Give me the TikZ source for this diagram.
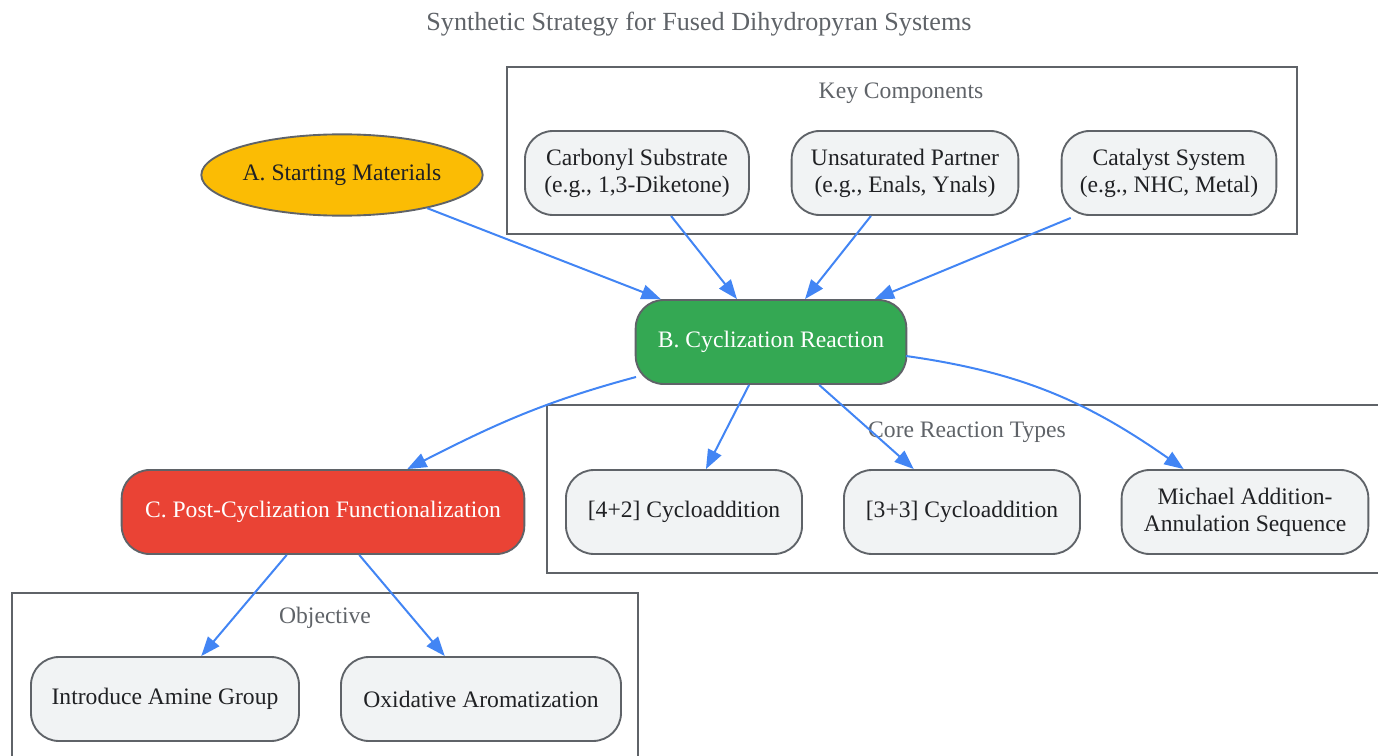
\documentclass[tikz,border=0pt]{standalone}
\usepackage{fontspec}
\setmainfont{Liberation Serif}
\usetikzlibrary{arrows.meta,shapes.geometric}
\definecolor{edgeblue}{HTML}{4285F4}
\definecolor{linegray}{HTML}{5F6368}
\definecolor{boxgray}{HTML}{F1F3F4}
\definecolor{textdark}{HTML}{202124}
\definecolor{startyellow}{HTML}{FBBC04}
\definecolor{cyclgreen}{HTML}{34A853}
\definecolor{postred}{HTML}{EA4335}

\begin{document}
\begin{tikzpicture}[
    x=0.75pt, y=-0.75pt,
    font=\fontsize{17.7}{20.3}\selectfont,
    proc/.style={draw=linegray, line width=1.4pt, rounded corners=21pt,
        fill=boxgray, text=textdark, align=center, minimum height=63pt},
    cluster/.style={draw=linegray, line width=1.4pt},
    clabel/.style={text=linegray},
    link/.style={->, draw=edgeblue, line width=1.5pt},
    >={Triangle[length=14.5pt,width=11pt]}
]
\useasboundingbox (0,0) rectangle (1378,756);
\clip (0,0) rectangle (1378,756);

\node[clabel, font=\fontsize{19.6}{22}\selectfont] (title) at (699,24) {Synthetic Strategy for Fused Dihydropyran Systems};

% clusters
\draw[cluster] (507,67) rectangle (1297,234);
\node[clabel] (keylbl) at (901,93) {Key Components};
\draw[cluster] (547,405) rectangle (1385,573);
\node[clabel] (corelbl) at (967,432) {Core Reaction Types};
\draw[cluster] (12,593) rectangle (638,770);
\node[clabel] (objlbl) at (325,618) {Objective};

% nodes
\node[ellipse, draw=linegray, line width=1.4pt, fill=startyellow, text=textdark,
    minimum width=211pt, minimum height=61pt, inner sep=0pt] (start) at (342,175) {A. Starting Materials};
\node[proc, minimum width=168pt] (carb) at (637,173) {Carbonyl Substrate\\(e.g., 1,3-Diketone)};
\node[proc, minimum width=170pt] (unsat) at (905,173) {Unsaturated Partner\\(e.g., Enals, Ynals)};
\node[proc, minimum width=161pt] (cat) at (1169,173) {Catalyst System\\(e.g., NHC, Metal)};
\node[proc, fill=cyclgreen, text=white, minimum width=203pt] (cycl) at (771,342) {B. Cyclization Reaction};
\node[proc, fill=postred, text=white, minimum width=302pt] (post) at (323,512) {C. Post-Cyclization Functionalization};
\node[proc, minimum width=177pt] (fourtwo) at (684,512) {[4+2] Cycloaddition};
\node[proc, minimum width=177pt] (threethree) at (962,512) {[3+3] Cycloaddition};
\node[proc, minimum width=185pt] (michael) at (1245,512) {Michael Addition-\\Annulation Sequence};
\node[proc, minimum width=201pt] (amine) at (165,699) {Introduce Amine Group};
\node[proc, minimum width=210pt] (arom) at (481,699) {Oxidative Aromatization};

% edges
\draw[link] (start) -- (cycl);
\draw[link] (carb) -- (cycl);
\draw[link] (unsat) -- (cycl);
\draw[link] ([shift={(10,2)}]cat.south west) -- (cycl);
\draw[link] ([shift={(-135,35)}]cycl.center) to[out=195, in=27] (post);
\draw[link] (cycl) -- (fourtwo);
\draw[link] (cycl) -- (threethree);
\draw[link] ([shift={(135,14)}]cycl.center) to[out=-8, in=145] (michael);
\draw[link] (post) -- (amine);
\draw[link] (post) -- (arom);
\end{tikzpicture}
\end{document}
